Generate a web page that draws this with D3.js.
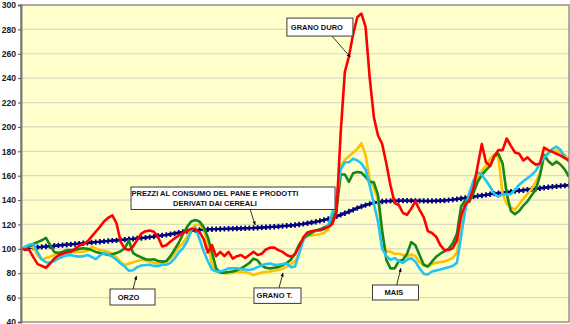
<!DOCTYPE html>
<html>
<head>
<meta charset="utf-8">
<script src="https://cdn.jsdelivr.net/npm/d3@7"></script>
<style>
  body { margin: 0; background: #fff; }
  svg { display: block; }
  text { font-family: "Liberation Sans", Arial, sans-serif; font-weight: bold; }
</style>
</head>
<body>
<svg id="chart" width="570" height="324"></svg>
<script>
// Monthly index numbers (base = 100)
const pane = [
  100,100.3,100.7,101,101.3,101.6,101.9,102.2,102.5,102.8,
  103.1,103.4,103.7,104,104.3,104.6,104.9,105.2,105.5,105.8,
  106.1,106.4,106.7,107,107.3,107.6,107.9,108.2,108.5,108.8,
  109.2,109.6,110,110.5,111,111.5,112,112.6,113.2,113.8,
  114.4,114.9,115.3,115.6,115.8,116,116.1,116.2,116.3,116.4,
  116.5,116.6,116.7,116.8,116.9,117,117.1,117.3,117.5,117.7,
  117.9,118.1,118.3,118.6,118.9,119.2,119.6,120,120.5,121,
  121.6,122.2,122.9,123.7,124.6,125.6,126.7,127.9,129.2,130.6,
  132,133.4,134.7,135.9,136.9,137.7,138.3,138.8,139.1,139.3,
  139.4,139.5,139.5,139.5,139.5,139.4,139.4,139.3,139.3,139.3,
  139.4,139.5,139.7,140,140.4,140.8,141.3,141.8,142.3,142.8,
  143.3,143.8,144.3,144.8,145.3,145.7,146.1,146.5,146.9,147.3,
  147.7,148.1,148.5,148.9,149.3,149.7,150.1,150.5,150.9,151.2,
  151.6,151.9,152.2
];
const granoDuro = [
  100,99.5,99,93,87.5,86,84.5,88,92,94.5,
  96,97,97.5,100,102.5,104,106,110,114,118,
  122.5,125.5,127.5,121,106,100,99,102,107.5,112.5,
  114.5,115,114,110,102,103,106,108.5,111,113,
  114.5,116.5,116,114,108,97,103,94,97.5,94,
  97.5,92,94,95,92.5,95,97.5,95,96,99.5,
  101,101,99,97.5,95,93.5,95.5,102,109,113.5,
  114.5,115,115.5,116.5,118,120.5,130,195,245,258,
  276,290,293,282,240,208,193,186,170,152,
  137.6,136,129.4,128,133,139,132,126,114.5,113,
  110,103,99,99,100.5,107,127,136,140,150,
  168,186,171,168,176,181,181,190.5,184.5,179,
  178,172.5,175,171.5,169,170,183,181,179.5,178,
  176.5,174.5,172.5
];
const granoTenero = [
  100,101,102,101,95,91,92.5,93.6,95,96.5,
  97.5,97.7,97.5,97.7,97.5,97.7,98.5,101.5,100.5,99,
  98.5,97.7,96,93,89,86.7,88,89,90,91,
  90.5,89.5,88.5,88,88,89.5,92,96.5,101.5,104.5,
  110,116,119.5,120,117,104.5,87,81.5,80.5,80,
  79.8,80.5,81,81.4,81,80,78.5,79.5,80.5,81,
  81.4,82,82.6,83.5,85.4,87.5,90,96,110,110.5,
  111,111.5,112,113,116,125,140,168,173,176,
  179,182,186.5,177,157,150,140,110,98,97.7,
  96,96,95,93.6,95.5,94,89,86.5,85.4,87.5,
  88.5,89.2,89.5,91,92.5,97,118,136,142,147,
  158,164,168,174,177.5,175,145,137,134,132,
  136.5,141,145,149,155,162,176,179,180.5,180.5,
  179,177,173
];
const mais = [
  100,101,102,104,105.5,107,109,103,97.5,96.5,
  97.5,99,99,99,100,100.5,100,99,97.5,96.5,
  96,95,95.5,96.5,98,100.5,107,96.5,94.5,93,
  91.5,91,91.5,90,89.5,90,94,99.5,105,112,
  118,122.5,123.6,122.5,118,109.6,97,84,80.5,80.5,
  81,81.4,82.5,84,86,88.4,92,90.5,86,84.5,
  84,84.5,85,86.5,88.4,91,96,103.5,108,111,
  113,115,116,117.5,119,123,132,161,161,155,
  162,163,162.5,159,155,154.5,144,115,91,84,
  84,90,91,96,105.5,103,95,87,85.5,89.5,
  93.5,96,98,100,104.5,112.3,134.5,140,138.6,146,
  155,160.6,164.5,168,176,178,170,145,131,128.5,
  131,135.5,139,144,148.5,160,177,172,169,171.5,
  169,165,159
];
const orzo = [
  100,101.5,103.5,104,97,91.5,89,88.6,90,92,
  93.5,94.5,95,94,93.6,94,95,93.5,91.5,94.5,
  96.5,95.5,93.5,91,88,85.5,82,82.5,85,86.3,
  86.8,86.9,86,85.8,86.9,87,88.5,92,97,100.5,
  106,115,117.5,108,98,90,83,81.5,81.4,82.5,
  84,84,84,83.5,83,82.6,83.5,85,86.5,87.5,
  88,87,87,87.5,88,85,85.5,96,107,113,
  114.5,115,115,116,119,130,142,165,171,171,
  174,172.5,170,165,152,137,122,100,94,91,
  92.4,90,88.5,91,92.4,89.5,84,79.5,79,81.4,
  82.3,83,84,85,86,88.5,110,132,146,156,
  163,160.6,156,151,145,142.7,145,144.5,145,148.5,
  152.5,155.5,158,160.6,164,170,175,178,182,183.8,
  181,175,171.5
];
const yTicks = [40, 60, 80, 100, 120, 140, 160, 180, 200, 220, 240, 260, 280, 300];

// Callout labels, anchored in data space: box centre, arrow start and tip as [month index, value]
const callouts = [
  { lines: ["GRANO DURO"], at: [72.0, 281.9], w: 66, h: 18, dx: -3, from: [74.9, 274.6], to: [79.3, 257.3] },
  { lines: ["PREZZI AL CONSUMO DEL PANE E PRODOTTI", "DERIVATI DAI CEREALI"], at: [51.07, 141.5], w: 204, h: 22.5, dx: -18, from: [55.2, 132.3], to: [56.4, 119.6] },
  { lines: ["ORZO"], at: [26.86, 60.5], w: 45, h: 16, dx: -4, from: [27.0, 67.1], to: [27.8, 77.7] },
  { lines: ["GRANO T."], at: [61.78, 61.6], w: 47, h: 15.5, dx: -3, from: [62.15, 67.9], to: [63.1, 80.2] },
  { lines: ["MAIS"], at: [90.2, 64.2], w: 46, h: 15, dx: -1.5, from: [90.5, 70.3], to: [91.5, 84.0] }
];

const svg = d3.select("#chart");
const pL = 21, pR = 569, pT = 5, pB = 322;

const x = d3.scaleLinear().domain([0, pane.length - 1]).range([pL, pR]);
const y = d3.scaleLinear().domain([40, 300]).range([pB, pT]);

const defs = svg.append("defs");

// plot background
svg.append("rect")
  .attr("x", pL).attr("y", pT)
  .attr("width", pR - pL).attr("height", pB - pT)
  .attr("fill", "#FFFFCC");

// horizontal gridlines
svg.append("g")
  .selectAll("line")
  .data(yTicks.filter(t => t > 40 && t < 300))
  .join("line")
  .attr("x1", pL).attr("x2", pR)
  .attr("y1", d => y(d)).attr("y2", d => y(d))
  .attr("stroke", "#d9d9c4")
  .attr("stroke-width", 1.2);

defs.append("clipPath").attr("id", "plot")
  .append("rect")
  .attr("x", pL).attr("y", pT)
  .attr("width", pR - pL).attr("height", pB - pT);

const line = d3.line()
  .x((d, i) => x(i))
  .y(d => y(d));

const lines = svg.append("g").attr("clip-path", "url(#plot)");

// bread consumer price index with cross markers
lines.append("path")
  .datum(pane)
  .attr("d", line)
  .attr("fill", "none")
  .attr("stroke", "#000080")
  .attr("stroke-width", 2.4);
lines.append("g")
  .selectAll("path")
  .data(pane)
  .join("path")
  .attr("transform", (d, i) => `translate(${x(i)},${y(d)})`)
  .attr("d", d3.symbol(d3.symbolCross, 16))
  .attr("fill", "#000080");

const series = [
  { values: granoTenero, color: "#FFC000" },
  { values: mais, color: "#14871a" },
  { values: orzo, color: "#22c4f4" },
  { values: granoDuro, color: "#FF0000" }
];

series.forEach(s => {
  lines.append("path")
    .datum(s.values)
    .attr("d", line)
    .attr("fill", "none")
    .attr("stroke", s.color)
    .attr("stroke-width", 2.6)
    .attr("stroke-linejoin", "round");
});

// plot frame
svg.append("rect")
  .attr("x", pL).attr("y", pT)
  .attr("width", pR - pL).attr("height", pB - pT)
  .attr("fill", "none")
  .attr("stroke", "#8a8a8a")
  .attr("stroke-width", 1.4);

// value axis
const yAxis = svg.append("g")
  .attr("transform", `translate(${pL},0)`)
  .call(d3.axisLeft(y).tickValues(yTicks).tickSize(3).tickPadding(2).tickFormat(d3.format("d")));
yAxis.select(".domain").attr("stroke", "#7a7a7a").attr("stroke-width", 2);
yAxis.selectAll(".tick line").attr("stroke", "#555");
yAxis.selectAll(".tick text")
  .attr("fill", "#1a1a1a")
  .style("font-size", "8.6px")
  .style("font-weight", "bold")
  .style("font-family", "'Liberation Sans', Arial, sans-serif");

// callouts
defs.append("marker")
  .attr("id", "arrow")
  .attr("viewBox", "0 0 10 10")
  .attr("refX", 9).attr("refY", 5)
  .attr("markerWidth", 5).attr("markerHeight", 5)
  .attr("orient", "auto")
  .append("path")
  .attr("d", "M0,1L10,5L0,9Z")
  .attr("fill", "#000");

const notes = svg.append("g");
callouts.forEach(c => {
  const cx = x(c.at[0]), cy = y(c.at[1]);
  notes.append("line")
    .attr("x1", x(c.from[0])).attr("y1", y(c.from[1]))
    .attr("x2", x(c.to[0])).attr("y2", y(c.to[1]))
    .attr("stroke", "#000")
    .attr("stroke-width", 0.8)
    .attr("marker-end", "url(#arrow)");
  notes.append("rect")
    .attr("x", cx - c.w / 2).attr("y", cy - c.h / 2)
    .attr("width", c.w).attr("height", c.h)
    .attr("fill", "#fff")
    .attr("stroke", "#3a3a3a")
    .attr("stroke-width", 1);
  const lh = 9.4;
  c.lines.forEach((t, k) => {
    notes.append("text")
      .attr("x", cx + c.dx)
      .attr("y", cy + (k - (c.lines.length - 1) / 2) * lh)
      .attr("dy", "0.36em")
      .attr("text-anchor", "middle")
      .attr("fill", "#111")
      .style("font-size", "7.5px")
      .text(t);
  });
});
</script>
</body>
</html>
